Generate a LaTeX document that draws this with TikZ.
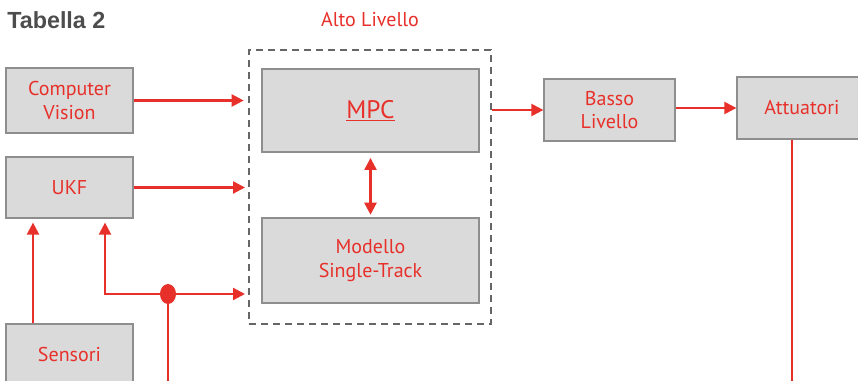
\documentclass[tikz,border=0pt]{standalone}
\usepackage{fontspec}
\usepackage{xcolor}
\usetikzlibrary{arrows.meta,calc,shapes.geometric}
\newfontfamily\etichetta{PT Sans}
\newfontfamily\titolofont{Liberation Sans}
\definecolor{TBRed}{HTML}{E8302A}
\definecolor{TBFill}{HTML}{DADADA}
\definecolor{TBLine}{HTML}{8E8E8E}
\definecolor{TBDash}{HTML}{666666}
\definecolor{TBTitle}{HTML}{4D4D4D}
\tikzset{
  blocco/.style={draw=TBLine,line width=0.9pt,fill=TBFill,text=TBRed,align=center,inner sep=0pt,
    font=\etichetta\fontsize{15}{17.5}\selectfont},
  linea/.style={draw=TBRed,line width=1.7pt},
  freccia/.style={linea,-{Triangle[length=9pt,width=9pt]}},
}

\begin{document}
\begin{tikzpicture}[x=0.75pt,y=-0.75pt]
\path[use as bounding box] (0,0) rectangle (858,381);
\node[anchor=base west,inner sep=0pt,text=TBTitle,font=\titolofont\bfseries\fontsize{17.5}{20}\selectfont] (tab) at (7,29) {Tabella 2};
\node[text=TBRed,inner sep=0pt,font=\etichetta\fontsize{15}{17.5}\selectfont] (altotxt) at (370,20) {Alto Livello};
\node[draw=TBDash,line width=2pt,dash pattern=on 5.5pt off 3.5pt,inner sep=0pt,minimum width=181.5pt,minimum height=205.5pt] (alto) at (370,187) {};
\node[blocco,minimum width=95.25pt,minimum height=48.75pt] (cv) at (69.5,100.5) {Computer\\Vision};
\node[blocco,minimum width=95.25pt,minimum height=45.75pt] (ukf) at (69.5,187.5) {UKF};
\node[blocco,minimum width=95.25pt,minimum height=46.5pt] (sens) at (69.5,355) {Sensori};
\node[blocco,minimum width=162.75pt,minimum height=62.25pt,font=\etichetta\fontsize{19}{22}\selectfont] (mpc) at (370.5,110.5) {\underline{MPC}};
\node[blocco,minimum width=162.75pt,minimum height=63.75pt] (mod) at (370.5,260.5) {Modello\\Single-Track};
\node[blocco,minimum width=98.25pt,minimum height=46.5pt] (basso) at (609.5,110) {Basso\\Livello};
\node[blocco,minimum width=97.5pt,minimum height=46.5pt] (att) at (802,108) {Attuatori};
\node[ellipse,fill=TBRed,inner sep=0pt,minimum width=12pt,minimum height=15pt] (nodo) at (168,294) {};
\coordinate (giu) at (168,390);
\coordinate (fondo) at (792,390);
\draw[freccia,shorten >=3pt] (cv.east) -- (cv.east -| alto.west);
\draw[freccia,shorten >=2pt] (ukf.east) -- (ukf.east -| alto.west);
\draw[freccia,shorten >=2pt] (nodo.center) -- (nodo.center -| alto.west);
\draw[freccia,shorten >=3pt] (nodo.center) -| ($(ukf.south)+(35.5,0)$);
\draw[linea] (nodo.center) -- (giu);
\draw[freccia,shorten >=3pt] ($(sens.north)+(-36.5,0)$) -- ($(ukf.south)+(-36.5,0)$);
\draw[linea,{Triangle[length=9pt,width=9pt]}-{Triangle[length=9pt,width=9pt]},shorten <=4pt,shorten >=2pt] (mpc.south) -- (mod.north);
\draw[freccia] (alto.east |- basso.west) -- (basso.west);
\draw[freccia] (att.west -| basso.east) -- (att.west);
\draw[linea] ($(att.south)+(-10,0)$) -- (fondo);
\end{tikzpicture}
\end{document}
